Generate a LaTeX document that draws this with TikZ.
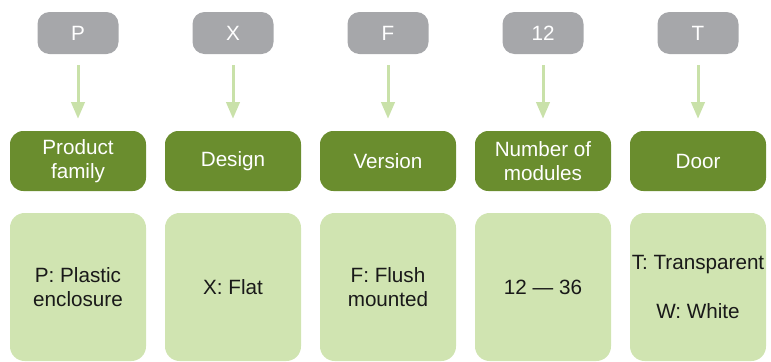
\documentclass[tikz,border=0pt]{standalone}
\usepackage{fontspec}
\setmainfont{Liberation Sans}
\usetikzlibrary{arrows.meta}
\definecolor{keyGray}{HTML}{A6A7AA}
\definecolor{headGreen}{HTML}{6A8D2E}
\definecolor{paleGreen}{HTML}{D0E4B1}
\definecolor{arrowGreen}{HTML}{C9E1A9}

\begin{document}
\begin{tikzpicture}
[x=0.75pt,y=-0.75pt,
  textDecorate/.style={font=\fontsize{15.5}{18.5}\selectfont,align=center,inner sep=0pt},%
  keyDecorate/.style={textDecorate,fill=keyGray,text=white,rounded corners=9pt,
    minimum width=60.75pt,minimum height=31.5pt},%
  headDecorate/.style={textDecorate,fill=headGreen,text=white,rounded corners=10pt,
    minimum width=102pt,minimum height=45pt},%
  detailDecorate/.style={textDecorate,fill=paleGreen,text=black!90,rounded corners=11pt,
    minimum width=102pt,minimum height=111pt},%
  arrowDecorate/.style={-{Triangle[width=10pt,length=12.5pt]},line width=2.25pt,
    draw=arrowGreen,shorten <=8.25pt,shorten >=9pt}]
\useasboundingbox (0,0) rectangle (771,361);
%% one column per code letter
\foreach \name/\x/\letter/\heading/\detail in {
  p/78/P/{Product\\family}/{P: Plastic\\enclosure},
  x/233/X/Design/{X: Flat},
  f/388/F/Version/{F: Flush\\mounted},
  n/543/12/{Number of\\modules}/{12 --- 36},
  t/698/T/Door/{T: Transparent\\ \\W: White}}
{
  \node (key\name) at (\x,33) [keyDecorate] {\letter};
  \node (head\name) at (\x,161) [headDecorate] {\heading};
  \node (detail\name) at (\x,287) [detailDecorate] {\detail};
  \draw [arrowDecorate] (key\name) -- (head\name);
}
\end{tikzpicture}
\end{document}
